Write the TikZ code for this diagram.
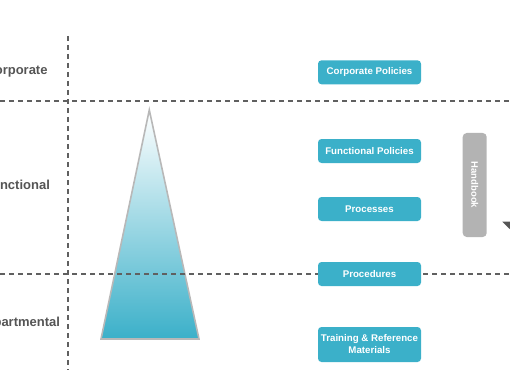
\documentclass[tikz,border=0pt]{standalone}
\usepackage{fontspec}
\setmainfont{Liberation Sans}
\definecolor{boxc}{HTML}{3BB0C9}
\definecolor{linec}{HTML}{606060}
\definecolor{labc}{HTML}{555555}
\definecolor{handc}{HTML}{B3B3B3}
\definecolor{edgec}{HTML}{B8B8B8}
\begin{document}
\begin{tikzpicture}[x=1pt,y=-1pt,
  sep/.style={draw=linec,line width=1.9pt,dash pattern=on 5pt off 4pt},
  lvl/.style={font=\fontsize{13}{15}\selectfont\bfseries,text=labc,inner sep=0pt},
  item/.style={fill=boxc,rounded corners=3.5pt,text=white,font=\fontsize{9.7}{12}\selectfont\bfseries,
     minimum width=103pt,minimum height=24pt,inner sep=1pt,align=center},
]
\useasboundingbox (0,0) rectangle (510,382);
\clip (0,0) rectangle (510,382);
% pyramid
\shade[top color=white,middle color=boxc!38,bottom color=boxc] (149.3,110) -- (199,339) -- (101,339) -- cycle;
\draw[edgec,line width=1.6pt,line join=miter] (149.3,110) -- (199,339) -- (101,339) -- cycle;
% separators
\coordinate (vt) at (68,36);
\coordinate (vb) at (68,370);
\coordinate (h1l) at (0,101);
\coordinate (h1r) at (512,101);
\coordinate (h2l) at (0,274);
\coordinate (h2r) at (512,274);
\draw[sep] (vt) -- (vb);
\draw[sep] (h1l) -- (h1r);
\draw[sep] (h2l) -- (h2r);
% level labels
\node[lvl] (corp) at (16.5,71) {Corporate};
\node[lvl] (func) at (17,185) {Functional};
\node[lvl] (dept) at (18.5,323) {Departmental};
% boxes
\node[item] (cp) at (369.5,72.3) {Corporate Policies};
\node[item] (fp) at (369.5,151) {Functional Policies};
\node[item] (pr) at (369.5,209) {Processes};
\node[item] (pd) at (369.5,274) {Procedures};
\node[item,minimum height=35pt] (tr) at (369.5,344.5) {Training \& Reference\\Materials};
% handbook
\node[fill=handc,rounded corners=4pt,minimum width=24pt,minimum height=104pt,inner sep=0pt] (hb) at (474.7,185) {};
\node[rotate=-90,text=white,font=\fontsize{9.5}{11}\selectfont\bfseries] (hbt) at (hb.center) {Handbook};
% corner marker
\fill[labc] (502.3,221.7) -- (514,221.7) -- (509.5,229) -- cycle;
\end{tikzpicture}
\end{document}
